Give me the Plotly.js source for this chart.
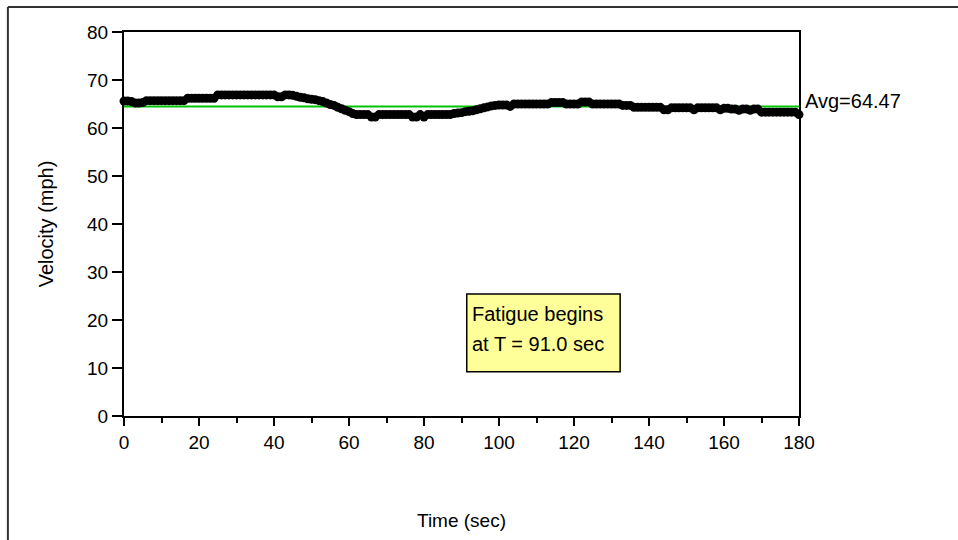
<!DOCTYPE html>
<html>
<head>
<meta charset="utf-8">
<script src="https://cdn.plot.ly/plotly-3.0.1.min.js"></script>
<style>html,body{margin:0;padding:0;background:#fff;}#chart{width:958px;height:540px;}</style>
</head>
<body>
<div id="chart"></div>
<script>
// Velocity readings (mph), one per second from t = 0 to t = 180 s
const velocity = [
  65.6,65.6,65.5,65.2,65.2,65.3,65.7,65.7,65.7,65.7,
  65.7,65.7,65.7,65.7,65.7,65.7,65.7,66.2,66.2,66.2,
  66.2,66.2,66.2,66.2,66.2,66.9,66.9,66.9,66.9,66.9,
  66.9,66.9,66.9,66.9,66.9,66.9,66.9,66.9,66.9,66.9,
  66.9,66.5,66.5,66.9,66.9,66.8,66.6,66.4,66.3,66.1,
  66.0,65.9,65.7,65.5,65.2,64.9,64.7,64.3,64.0,63.7,
  63.4,63.0,62.8,62.8,62.8,62.8,62.3,62.3,62.8,62.8,
  62.8,62.8,62.8,62.8,62.8,62.8,62.8,62.3,62.3,62.8,
  62.3,62.8,62.8,62.8,62.8,62.8,62.8,62.8,63.0,63.1,
  63.2,63.4,63.5,63.6,63.8,64.0,64.2,64.4,64.6,64.7,
  64.8,64.8,64.8,64.5,65.0,65.0,65.0,65.0,65.0,65.0,
  65.0,65.0,65.0,65.0,65.3,65.3,65.3,65.3,65.0,65.0,
  65.0,65.0,65.4,65.4,65.4,65.0,65.0,65.0,65.0,65.0,
  65.0,65.0,65.0,64.7,64.7,64.7,64.3,64.3,64.3,64.3,
  64.3,64.3,64.3,64.3,63.8,63.8,64.2,64.2,64.2,64.2,
  64.2,64.2,63.8,64.2,64.2,64.2,64.2,64.2,64.2,63.8,
  64.1,64.1,63.95,63.95,63.7,63.95,63.95,63.7,63.95,63.95,
  63.3,63.3,63.3,63.3,63.3,63.3,63.3,63.3,63.3,63.3,
  62.8
];
const sampleStepSec = 1;
const timeSec = velocity.map((_, i) => i * sampleStepSec);
const avgVelocity = 64.47;
const avgRange = [0, 180];
const fatigueTime = 91.0;
const noteLines = ["Fatigue begins", "at T = " + fatigueTime.toFixed(1) + " sec"];

const FONT = "Liberation Sans, Arial, sans-serif";

const traces = [
  {
    x: avgRange, y: [avgVelocity, avgVelocity],
    mode: "lines", line: {color: "#00c400", width: 2},
    hoverinfo: "skip", showlegend: false, cliponaxis: false
  },
  {
    x: timeSec, y: velocity,
    mode: "lines+markers",
    line: {color: "#000", width: 2},
    marker: {color: "#000", size: 9},
    showlegend: false, cliponaxis: false
  }
];

const layout = {
  width: 958, height: 540,
  margin: {l: 124, r: 159, t: 32, b: 124, pad: 0},
  paper_bgcolor: "#fff", plot_bgcolor: "#fff",
  font: {family: FONT, size: 19, color: "#000"},
  showlegend: false,
  xaxis: {
    range: [0, 180], tickmode: "linear", tick0: 0, dtick: 20,
    ticks: "outside", ticklen: 8, tickwidth: 2, tickcolor: "#000",
    minor: {tickmode: "linear", tick0: 0, dtick: 10, ticks: "outside", ticklen: 5, tickwidth: 2, tickcolor: "#000"},
    showgrid: false, zeroline: false,
    showline: true, linecolor: "#000", linewidth: 2, mirror: true,
    tickfont: {family: FONT, size: 19},
    title: {text: "Time (sec)", font: {family: FONT, size: 19}, standoff: 62}
  },
  yaxis: {
    range: [0, 80], tickmode: "linear", tick0: 0, dtick: 10,
    ticks: "outside", ticklen: 10, tickwidth: 2, tickcolor: "#000",
    showgrid: false, zeroline: false,
    showline: true, linecolor: "#000", linewidth: 2, mirror: true,
    tickfont: {family: FONT, size: 19},
    title: {text: "Velocity (mph)", font: {family: FONT, size: 20}, standoff: 28}
  },
  shapes: [
    {type: "line", xref: "paper", yref: "paper", x0: -0.172, x1: 1.25, y0: 1.065, y1: 1.065, line: {color: "#333", width: 2}},
    {type: "line", xref: "paper", yref: "paper", x0: -0.172, x1: -0.172, y0: 1.065, y1: -0.33, line: {color: "#333", width: 2}},
    {type: "rect", xref: "x", yref: "y", x0: fatigueTime + 0.4, x1: 132.3, y0: 9.2, y1: 25.4,
     fillcolor: "#ffff99", line: {color: "#000", width: 1.5}, layer: "above"}
  ],
  annotations: [
    {x: 180, y: avgVelocity, xref: "x", yref: "y", text: "Avg=" + avgVelocity.toFixed(2),
     showarrow: false, xanchor: "left", yanchor: "middle", xshift: 4, yshift: 6,
     font: {family: FONT, size: 20, color: "#000"}},
    {x: fatigueTime + 0.4, y: 21.2, xref: "x", yref: "y", text: noteLines[0],
     showarrow: false, xanchor: "left", yanchor: "middle", xshift: 3,
     font: {family: FONT, size: 20, color: "#000"}},
    {x: fatigueTime + 0.4, y: 14.9, xref: "x", yref: "y", text: noteLines[1],
     showarrow: false, xanchor: "left", yanchor: "middle", xshift: 3,
     font: {family: FONT, size: 20, color: "#000"}}
  ]
};

Plotly.newPlot("chart", traces, layout, {staticPlot: true, displayModeBar: false});
</script>
</body>
</html>
